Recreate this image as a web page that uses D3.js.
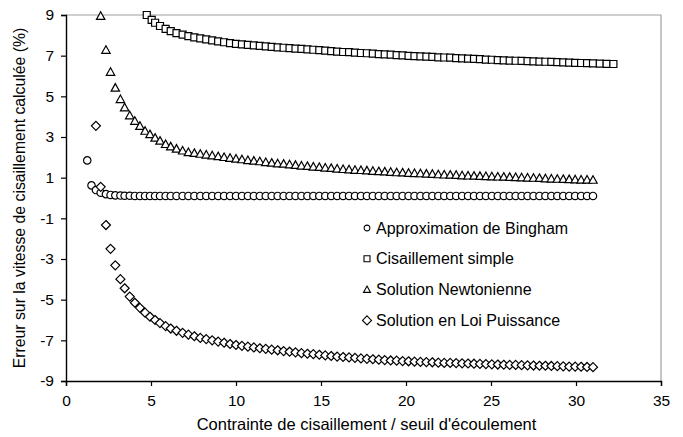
<!DOCTYPE html>
<html lang="fr">
<head>
    <meta charset="UTF-8">
    <title>Erreur sur la vitesse de cisaillement</title>
    <script src="https://d3js.org/d3.v7.min.js"></script>
    <style>
        body { margin: 0; background: #fff; }
        text { font-family: "Liberation Sans", Arial, sans-serif; fill: #000; }
    </style>
</head>
<body>
<div id="chart"></div>

<script>
    // abscisses communes (contrainte / seuil) pour Bingham, Newtonienne, Loi Puissance
    const contrainte = [1.25, 1.5, 1.76, 2.04, 2.35, 2.62, 2.9, 3.2, 3.45, 3.75, 4.05, 4.35, 4.65, 4.94, 5.24, 5.53, 5.86, 6.16, 6.5, 6.86, 7.2,
        7.55, 7.9, 8.25, 8.6, 8.95, 9.3, 9.65, 10.0, 10.35, 10.7, 11.05, 11.4, 11.75, 12.1, 12.45, 12.8, 13.15, 13.5, 13.85, 14.2,
        14.55, 14.9, 15.25, 15.6, 15.95, 16.3, 16.65, 17.0, 17.35, 17.7, 18.05, 18.4, 18.75, 19.1, 19.45, 19.8, 20.15, 20.5, 20.85,
        21.2, 21.55, 21.9, 22.25, 22.6, 22.95, 23.3, 23.65, 24.0, 24.35, 24.7, 25.05, 25.4, 25.75, 26.1, 26.45, 26.8, 27.15, 27.5,
        27.85, 28.2, 28.55, 28.9, 29.25, 29.6, 29.95, 30.3, 30.65, 31.0];

    // null = hors de l'échelle (> 9 %)
    const bingham = [1.85, 0.62, 0.39, 0.26, 0.19, 0.15, 0.13, 0.12, 0.11, 0.11, 0.1, 0.1, 0.1, 0.1, 0.1, 0.1, 0.1, 0.1, 0.1, 0.1, 0.1,
        0.1, 0.1, 0.1, 0.1, 0.1, 0.1, 0.1, 0.1, 0.1, 0.1, 0.1, 0.1, 0.1, 0.1, 0.1, 0.1, 0.1, 0.1, 0.1, 0.1,
        0.1, 0.1, 0.1, 0.1, 0.1, 0.1, 0.1, 0.1, 0.1, 0.1, 0.1, 0.1, 0.1, 0.1, 0.1, 0.1, 0.1, 0.1, 0.1,
        0.1, 0.1, 0.1, 0.1, 0.1, 0.1, 0.1, 0.1, 0.1, 0.1, 0.1, 0.1, 0.1, 0.1, 0.1, 0.1, 0.1, 0.1, 0.1,
        0.1, 0.1, 0.1, 0.1, 0.1, 0.1, 0.1, 0.1, 0.1, 0.1];

    const newtonienne = [null, null, null, 8.95, 7.28, 6.2, 5.42, 4.86, 4.45, 4.06, 3.79, 3.54, 3.3, 3.13, 2.96, 2.81, 2.65, 2.53, 2.42, 2.33, 2.25,
        2.21, 2.17, 2.13, 2.09, 2.05, 2.01, 1.97, 1.93, 1.90, 1.86, 1.83, 1.80, 1.76, 1.73, 1.70, 1.68, 1.65, 1.62, 1.59, 1.57,
        1.54, 1.52, 1.49, 1.47, 1.44, 1.42, 1.40, 1.38, 1.37, 1.35, 1.33, 1.31, 1.30, 1.28, 1.26, 1.25, 1.23, 1.22, 1.21,
        1.19, 1.18, 1.16, 1.15, 1.14, 1.13, 1.11, 1.10, 1.09, 1.08, 1.07, 1.06, 1.05, 1.04, 1.03, 1.02, 1.01, 1.00, 0.99,
        0.98, 0.96, 0.95, 0.94, 0.93, 0.92, 0.91, 0.90, 0.90, 0.89];

    const loiPuissance = [null, null, 3.55, 0.55, -1.33, -2.5, -3.31, -3.99, -4.44, -4.85, -5.15, -5.4, -5.64, -5.84, -6.0, -6.15, -6.3, -6.42, -6.53, -6.63, -6.72,
        -6.80, -6.88, -6.94, -7.00, -7.06, -7.12, -7.18, -7.23, -7.27, -7.31, -7.35, -7.39, -7.42, -7.46, -7.49, -7.53, -7.56, -7.59, -7.63, -7.66,
        -7.68, -7.71, -7.74, -7.77, -7.80, -7.82, -7.84, -7.86, -7.89, -7.91, -7.93, -7.95, -7.97, -7.99, -8.00, -8.02, -8.03, -8.05, -8.06,
        -8.07, -8.08, -8.10, -8.11, -8.11, -8.12, -8.13, -8.14, -8.15, -8.16, -8.17, -8.18, -8.19, -8.20, -8.21, -8.21, -8.22, -8.23, -8.24,
        -8.25, -8.25, -8.26, -8.27, -8.28, -8.29, -8.29, -8.30, -8.31, -8.32];

    // cisaillement simple : ses propres abscisses
    const contrainteCS = [4.75, 5.04, 5.24, 5.53, 5.86, 6.16, 6.5, 6.86, 7.2,
        7.55, 7.9, 8.25, 8.6, 8.95, 9.3, 9.65, 10.0, 10.35, 10.7, 11.05, 11.4, 11.75, 12.1, 12.45, 12.8, 13.15, 13.5, 13.85, 14.2,
        14.55, 14.9, 15.25, 15.6, 15.95, 16.3, 16.65, 17.0, 17.35, 17.7, 18.05, 18.4, 18.75, 19.1, 19.45, 19.8, 20.15, 20.5, 20.85,
        21.2, 21.55, 21.9, 22.25, 22.6, 22.95, 23.3, 23.65, 24.0, 24.35, 24.7, 25.05, 25.4, 25.75, 26.1, 26.45, 26.8, 27.15, 27.5,
        27.85, 28.2, 28.55, 28.9, 29.25, 29.6, 29.95, 30.3, 30.65, 31.0, 31.4, 31.8, 32.2];

    const cisaillementSimple = [9.0, 8.76, 8.62, 8.46, 8.32, 8.21, 8.11, 8.03, 7.96,
        7.90, 7.85, 7.80, 7.75, 7.70, 7.66, 7.62, 7.58, 7.56, 7.53, 7.51, 7.48, 7.46, 7.43, 7.41, 7.39, 7.37, 7.35, 7.33, 7.31,
        7.29, 7.27, 7.25, 7.22, 7.20, 7.18, 7.17, 7.15, 7.13, 7.12, 7.10, 7.08, 7.06, 7.05, 7.03, 7.01, 6.99, 6.98, 6.97,
        6.95, 6.94, 6.92, 6.91, 6.90, 6.88, 6.87, 6.85, 6.84, 6.83, 6.81, 6.80, 6.78, 6.77, 6.76, 6.75, 6.74, 6.73, 6.72,
        6.71, 6.70, 6.69, 6.68, 6.67, 6.66, 6.65, 6.64, 6.63, 6.62, 6.61, 6.60, 6.59];

    const xTicks = [0, 5, 10, 15, 20, 25, 30, 35];
    const yTicks = [-9, -7, -5, -3, -1, 1, 3, 5, 7, 9];

    const seriesNames = ["Approximation de Bingham", "Cisaillement simple", "Solution Newtonienne", "Solution en Loi Puissance"];

    const width = 683, height = 437;
    const plot = {left: 66, right: 661, top: 15, bottom: 381};

    const svg = d3.select("#chart").append("svg")
        .attr("width", width)
        .attr("height", height);

    const x = d3.scaleLinear().domain([0, 35]).range([plot.left, plot.right]);
    const y = d3.scaleLinear().domain([-9, 9]).range([plot.bottom, plot.top]);

    // cadre gris en haut et à droite
    svg.append("path")
        .attr("d", `M${plot.left},${plot.top}H${plot.right}V${plot.bottom}`)
        .attr("fill", "none")
        .attr("stroke", "#a0a0a0")
        .attr("stroke-width", 1.2);

    // axes
    const xAxis = svg.append("g")
        .attr("transform", `translate(0,${plot.bottom})`)
        .call(d3.axisBottom(x).tickValues(xTicks).tickSize(5).tickPadding(9));
    const yAxis = svg.append("g")
        .attr("transform", `translate(${plot.left},0)`)
        .call(d3.axisLeft(y).tickValues(yTicks).tickSize(5).tickPadding(7)
            .tickFormat(d => d < 0 ? "-" + Math.abs(d) : d));

    [xAxis, yAxis].forEach(a => {
        a.selectAll("path.domain").attr("stroke", "#000").attr("stroke-width", 1.4);
        a.selectAll(".tick line").attr("stroke", "#000").attr("stroke-width", 1.2);
        a.selectAll(".tick text").attr("font-size", 15.5).attr("font-family", "Liberation Sans, Arial, sans-serif");
    });

    // titres des axes
    svg.append("text")
        .attr("x", (plot.left + plot.right) / 2 + 3)
        .attr("y", 430)
        .attr("text-anchor", "middle")
        .attr("font-size", 16.5)
        .text("Contrainte de cisaillement / seuil d'écoulement");

    svg.append("text")
        .attr("transform", `translate(25,${(plot.top + plot.bottom) / 2}) rotate(-90)`)
        .attr("text-anchor", "middle")
        .attr("font-size", 15.8)
        .text("Erreur sur la vitesse de cisaillement calculée (%)");

    // formes des marqueurs
    function markerPath(shape, s) {
        const h = s / 2;
        switch (shape) {
            case "circle": return `M${h},0A${h},${h} 0 1,1 ${-h},0A${h},${h} 0 1,1 ${h},0Z`;
            case "square": return `M${-h},${-h}H${h}V${h}H${-h}Z`;
            case "triangle": return `M0,${-h}L${h},${h * 0.8}L${-h},${h * 0.8}Z`;
            case "diamond": return `M0,${-h}L${h},0L0,${h}L${-h},0Z`;
        }
    }

    const series = [
        {name: seriesNames[0], xs: contrainte, ys: bingham, shape: "circle", size: 7.4, legendSize: 5.8},
        {name: seriesNames[1], xs: contrainteCS, ys: cisaillementSimple, shape: "square", size: 7, legendSize: 6},
        {name: seriesNames[2], xs: contrainte, ys: newtonienne, shape: "triangle", size: 8.4, legendSize: 7},
        {name: seriesNames[3], xs: contrainte, ys: loiPuissance, shape: "diamond", size: 9, legendSize: 9}
    ];

    series.forEach(s => {
        const pts = s.xs.map((v, i) => [v, s.ys[i]]).filter(p => p[1] !== null);
        svg.append("g")
            .selectAll("path")
            .data(pts)
            .enter().append("path")
            .attr("d", markerPath(s.shape, s.size))
            .attr("transform", p => `translate(${x(p[0])},${y(p[1])})`)
            .attr("fill", "#fff")
            .attr("stroke", "#000")
            .attr("stroke-width", 1.2);
    });

    // légende
    const legend = svg.append("g").attr("transform", "translate(367,228)");
    series.forEach((s, i) => {
        const row = legend.append("g").attr("transform", `translate(0,${i * 30.8})`);
        row.append("path")
            .attr("d", markerPath(s.shape, s.legendSize))
            .attr("fill", "#fff")
            .attr("stroke", "#000")
            .attr("stroke-width", 1.1);
        row.append("text")
            .attr("x", 9)
            .attr("y", 5.5)
            .attr("font-size", 16)
            .text(s.name);
    });
</script>
</body>
</html>
